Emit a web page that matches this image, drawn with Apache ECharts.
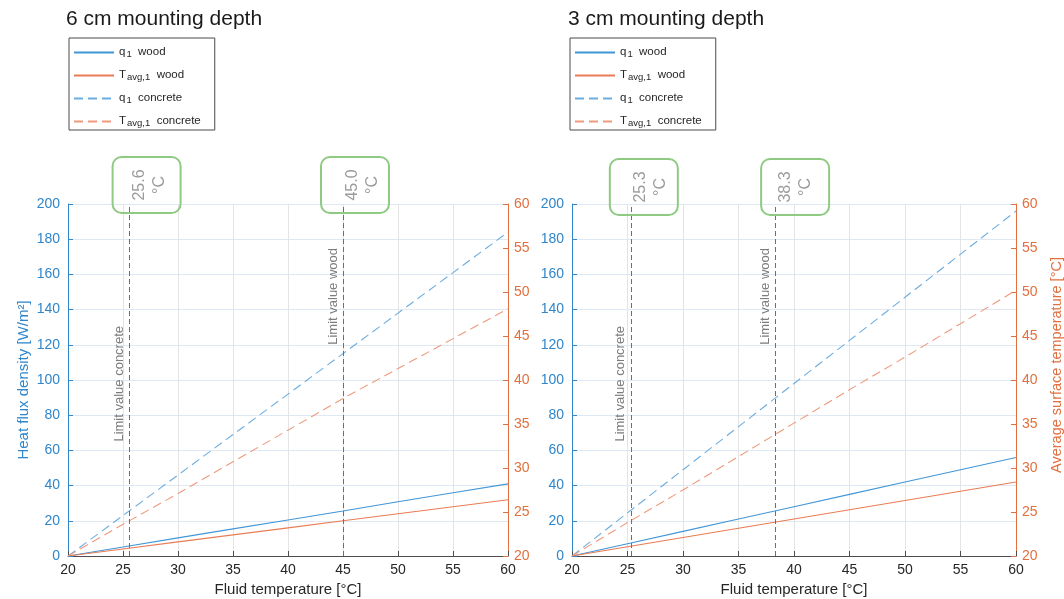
<!DOCTYPE html>
<html><head><meta charset="utf-8">
<script src="https://cdn.jsdelivr.net/npm/echarts@6/dist/echarts.min.js"></script>
<style>html,body{margin:0;padding:0;background:#fff}#c{width:1064px;height:599px}</style>
</head><body><div id="c"></div>
<script>
// ---------- data ----------
const fluidTemp = [20, 25, 30, 35, 40, 45, 50, 55, 60];
// 6 cm mounting depth
const q_wood_6      = [0, 5.1, 10.3, 15.4, 20.5, 25.6, 30.8, 35.9, 41];
const T_wood_6      = [20, 20.8, 21.6, 22.4, 23.2, 24.0, 24.8, 25.6, 26.4];
const q_concrete_6  = [0, 23, 46, 69, 92, 115, 138, 161, 184];
const T_concrete_6  = [20, 23.6, 27.1, 30.7, 34.3, 37.9, 41.3, 44.7, 48.1];
// 3 cm mounting depth
const q_wood_3      = [0, 7, 14, 21, 28, 35, 42, 49, 56];
const T_wood_3      = [20, 21.05, 22.1, 23.15, 24.2, 25.25, 26.3, 27.35, 28.4];
const q_concrete_3  = [0, 24.5, 49, 73.5, 98, 122.5, 147, 171.5, 196];
const T_concrete_3  = [20, 23.8, 27.5, 31.3, 35.1, 38.9, 42.6, 46.4, 50.2];
// limit values [concrete, wood]
const limits6 = [25.6, 45.0];
const limits3 = [25.3, 38.3];
const limitLabels = ['Limit value concrete', 'Limit value wood'];
const titles = ['6 cm mounting depth', '3 cm mounting depth'];
const seriesNames = ['q1 wood', 'Tavg,1 wood', 'q1 concrete', 'Tavg,1 concrete'];
const xName = 'Fluid temperature [°C]';
const yLeftName = 'Heat flux density [W/m²]';
const yRightName = 'Average surface temperature [°C]';

// ---------- layout / style ----------
const FONT = 'Liberation Sans, Arial, Helvetica, sans-serif';
const BLUE_AX = '#2f86cb', ORANGE_AX = '#e2703e';
const BLUE = '#4396d6', ORANGE = '#e97c55';
const BLUE_D = '#6cade0', ORANGE_D = '#ef9a7c';
const GRIDS = [{left: 68, width: 440}, {left: 572, width: 444}];
const GRID_TOP = 204, GRID_H = 352;
const BOX_DX = [[-17, -22], [-21, -14]];
const BOX_TOP = [157, 159];
const LABEL_ANCHOR_Q = [65, 120];

const zip = (xs, ys) => xs.map((x, i) => [x, ys[i]]);

function legendFmt(name) {
  const m = {
    'q1 wood': '{n|q}{s|1}{n|  wood}',
    'Tavg,1 wood': '{n|T}{s|avg,1}{n|  wood}',
    'q1 concrete': '{n|q}{s|1}{n|  concrete}',
    'Tavg,1 concrete': '{n|T}{s|avg,1}{n|  concrete}'
  };
  return m[name];
}

function xAxisCfg(gi) {
  return {
    type: 'value', gridIndex: gi, min: 20, max: 60, interval: 5,
    name: xName, nameLocation: 'middle', nameGap: 26,
    nameTextStyle: {fontSize: 15, color: '#262626', fontFamily: FONT},
    axisLine: {show: true, onZero: false, lineStyle: {color: '#4d4d4d', width: 1}},
    axisTick: {show: true, inside: true, length: 5, lineStyle: {color: '#4d4d4d'}},
    axisLabel: {fontSize: 14, color: '#262626', margin: 7, fontFamily: FONT},
    splitLine: {show: true, lineStyle: {color: '#e4e4e4', width: 1}}
  };
}
function yLeftCfg(gi, withName) {
  return {
    type: 'value', gridIndex: gi, position: 'left', min: 0, max: 200, interval: 20,
    name: withName ? yLeftName : '', nameLocation: 'middle', nameGap: 37, nameRotate: 90,
    nameTextStyle: {fontSize: 15, color: BLUE_AX, fontFamily: FONT},
    axisLine: {show: true, onZero: false, lineStyle: {color: BLUE_AX, width: 1}},
    axisTick: {show: true, inside: true, length: 5, lineStyle: {color: BLUE_AX}},
    axisLabel: {fontSize: 14, color: BLUE_AX, margin: 8, fontFamily: FONT},
    splitLine: {show: true, lineStyle: {color: '#dfe9f4', width: 1}}
  };
}
function yRightCfg(gi, withName) {
  return {
    type: 'value', gridIndex: gi, position: 'right', min: 20, max: 60, interval: 5,
    name: withName ? yRightName : '', nameLocation: 'middle', nameGap: 33, nameRotate: 90,
    nameTextStyle: {fontSize: 14.5, color: ORANGE_AX, fontFamily: FONT, padding: [0, 0, 0, 30]},
    axisLine: {show: true, onZero: false, lineStyle: {color: ORANGE_AX, width: 1}},
    axisTick: {show: true, inside: true, length: 5, lineStyle: {color: ORANGE_AX}},
    axisLabel: {fontSize: 14, color: ORANGE_AX, margin: 6, fontFamily: FONT},
    splitLine: {show: false}
  };
}

function panelSeries(gi, qW, tW, qC, tC, limits) {
  const xi = gi, yq = gi * 2, yt = gi * 2 + 1;
  const base = {type: 'line', xAxisIndex: xi, symbol: 'none', silent: true, animation: false};
  return [
    Object.assign({}, base, {name: seriesNames[0], yAxisIndex: yq, data: zip(fluidTemp, qW),
      lineStyle: {color: BLUE, width: 1.1}, itemStyle: {color: BLUE},
      markLine: {silent: true, symbol: 'none', animation: false, label: {show: false},
        lineStyle: {color: '#6e6e6e', width: 1, type: [5, 3]},
        data: limits.map(v => ({xAxis: v}))}}),
    Object.assign({}, base, {name: seriesNames[1], yAxisIndex: yt, data: zip(fluidTemp, tW),
      lineStyle: {color: ORANGE, width: 1.1}, itemStyle: {color: ORANGE}}),
    Object.assign({}, base, {name: seriesNames[2], yAxisIndex: yq, data: zip(fluidTemp, qC),
      lineStyle: {color: BLUE_D, width: 1.1, type: [9, 5]}, itemStyle: {color: BLUE_D}}),
    Object.assign({}, base, {name: seriesNames[3], yAxisIndex: yt, data: zip(fluidTemp, tC),
      lineStyle: {color: ORANGE_D, width: 1.1, type: [9, 5]}, itemStyle: {color: ORANGE_D}})
  ];
}

function legendCfg(left) {
  return {
    left: left, top: 38, orient: 'vertical', selectedMode: false,
    data: seriesNames, itemWidth: 40, itemHeight: 10, itemGap: 2,
    padding: [0, 14, 2, 4], borderColor: '#4a4a4a', borderWidth: 1, backgroundColor: '#fff',
    itemStyle: {opacity: 0},
    formatter: legendFmt,
    textStyle: {fontFamily: FONT, fontSize: 11.5, color: '#262626',
      rich: {
        n: {fontFamily: FONT, fontSize: 11.5, color: '#262626', lineHeight: 13, verticalAlign: 'top'},
        s: {fontFamily: FONT, fontSize: 9.5, color: '#262626', lineHeight: 10, verticalAlign: 'bottom', padding: [11, 0, 0, 1]}
      }}
  };
}

const option = {
  animation: false,
  backgroundColor: '#fff',
  textStyle: {fontFamily: FONT},
  title: [
    {text: titles[0], left: 66, top: 9, padding: 0, textStyle: {fontSize: 21, fontWeight: 'normal', color: '#1a1a1a', fontFamily: FONT}},
    {text: titles[1], left: 568, top: 9, padding: 0, textStyle: {fontSize: 21, fontWeight: 'normal', color: '#1a1a1a', fontFamily: FONT}}
  ],
  legend: [legendCfg(69), legendCfg(570)],
  grid: GRIDS.map(g => ({left: g.left, width: g.width, top: GRID_TOP, height: GRID_H,
    containLabel: false, outerBoundsMode: 'none'})),
  xAxis: [xAxisCfg(0), xAxisCfg(1)],
  yAxis: [yLeftCfg(0, true), yRightCfg(0, false), yLeftCfg(1, false), yRightCfg(1, true)],
  series: [].concat(
    panelSeries(0, q_wood_6, T_wood_6, q_concrete_6, T_concrete_6, limits6),
    panelSeries(1, q_wood_3, T_wood_3, q_concrete_3, T_concrete_3, limits3)
  )
};

const chart = echarts.init(document.getElementById('c'), null, {renderer: 'canvas'});
chart.setOption(option);

// annotations: value boxes above the plot and rotated limit labels
const graphics = [];
[limits6, limits3].forEach((lims, gi) => {
  lims.forEach((v, k) => {
    const p = chart.convertToPixel({gridIndex: gi}, [v, LABEL_ANCHOR_Q[k]]);
    const lx = p[0];
    graphics.push({
      type: 'rect', silent: true, z: 100,
      shape: {x: lx + BOX_DX[gi][k], y: BOX_TOP[gi], width: 68, height: 56, r: 9},
      style: {fill: 'rgba(0,0,0,0)', stroke: '#8fca82', lineWidth: 2}
    });
    graphics.push({
      type: 'text', silent: true, z: 101,
      x: lx + 20, y: BOX_TOP[gi] + 28, rotation: Math.PI / 2,
      style: {text: v.toFixed(1) + '\n°C', fill: '#9b9b9b', fontSize: 16, fontFamily: FONT,
        lineHeight: 20, align: 'center', verticalAlign: 'middle'}
    });
    graphics.push({
      type: 'text', silent: true, z: 101,
      x: lx - 10, y: p[1], rotation: Math.PI / 2,
      style: {text: limitLabels[k], fill: '#7c7c7c', fontSize: 13, fontFamily: FONT,
        align: 'left', verticalAlign: 'middle'}
    });
  });
});
chart.setOption({graphic: graphics});
</script>
</body></html>
